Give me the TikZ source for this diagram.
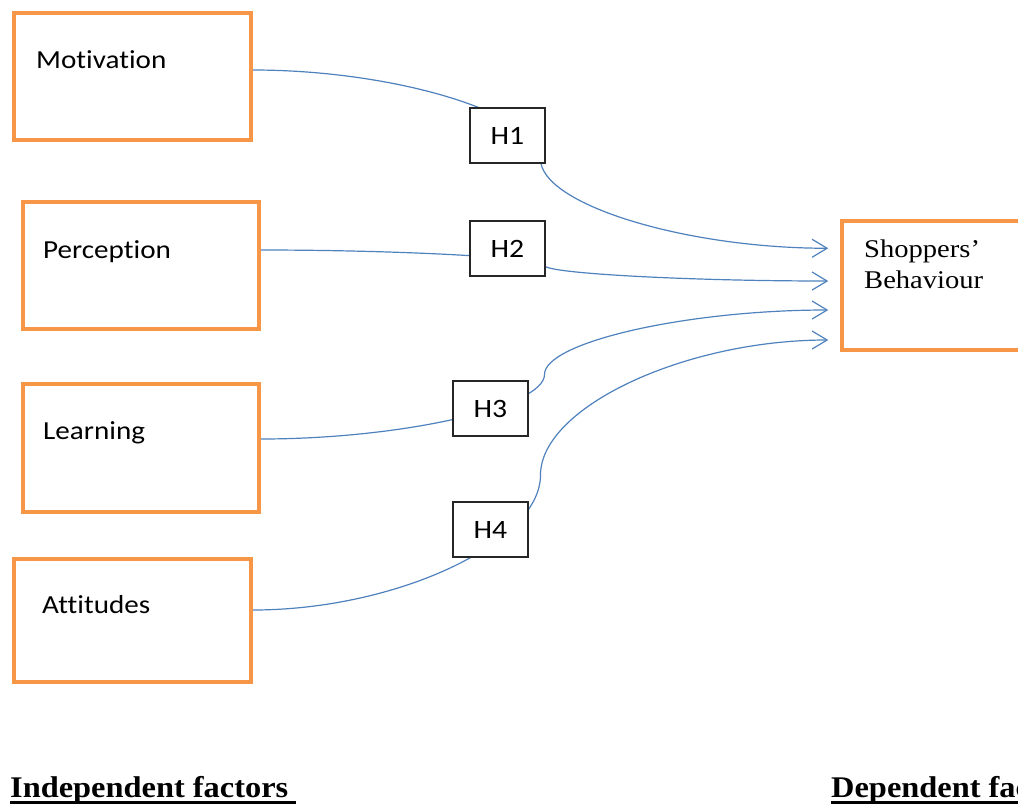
\documentclass[tikz,border=0pt]{standalone}
\usepackage{fontspec}
\setmainfont[FakeStretch=1.12]{Liberation Serif}
\newfontfamily\calibri[FakeStretch=1.12, Ligatures=NoCommon]{Carlito}
\newfontfamily\headfont[FakeStretch=1.08]{Liberation Serif}
\usetikzlibrary{arrows.meta,calc}
\definecolor{boxorange}{HTML}{F79646}
\definecolor{linkblue}{HTML}{4F81BD}
\newsavebox\ulbox
\newcommand{\thickul}[1]{\sbox\ulbox{#1}\usebox\ulbox\llap{\rule[-7pt]{\wd\ulbox}{3.5pt}}}
\tikzset{
	factor/.style={draw=boxorange, line width=3.5pt, minimum width=237pt, minimum height=127pt, inner sep=0pt},
	hypo/.style={draw=black!85, fill=white, line width=1.4pt, minimum width=75pt, minimum height=55pt, inner sep=0pt, font=\calibri\fontsize{26.5}{30}\selectfont},
	ftext/.style={anchor=base west, inner sep=0pt, font=\calibri\fontsize{26}{30}\selectfont},
	link/.style={draw=linkblue, line width=1.2pt, -{Straight Barb[length=15pt,width=18pt,line width=1.2pt]}},
	heading/.style={anchor=base west, inner sep=0pt, font=\headfont\bfseries\fontsize{30}{34}\selectfont}
}
\begin{document}
\begin{tikzpicture}[x=1pt,y=-1pt]
		\useasboundingbox (0,0) rectangle (1018,804);
		\clip (0,0) rectangle (1018,804);

		\node [factor] (motiv) at (132.5,76.5) {};
		\node [factor, minimum width=236pt] (percep) at (141,265.5) {};
		\node [factor, minimum width=236pt, minimum height=128pt] (learn) at (141,448) {};
		\node [factor, minimum height=123pt] (attit) at (132.5,620.5) {};
		\node [factor, minimum width=240pt, minimum height=129pt] (shop) at (962,285.5) {};

		\node [ftext] at ([shift={(23.75,-8.2)}]motiv.west) {Motivation};
		\node [ftext] at ([shift={(21.75,-7.2)}]percep.west) {Perception};
		\node [ftext] at ([shift={(21.75,-8.7)}]learn.west) {Learning};
		\node [ftext] at ([shift={(29.75,-7.2)}]attit.west) {Attitudes};
		\node [anchor=north west, align=left, inner sep=0pt, font=\fontsize{25.5}{31.6}\selectfont]
			at ([shift={(23.75,20)}]shop.north west) {Shoppers’\\Behaviour};

		\coordinate (s1) at ([shift={(0,-6.5)}]motiv.east);
		\coordinate (s2) at ([shift={(0,-15.5)}]percep.east);
		\coordinate (s3) at ([shift={(0,-9)}]learn.east);
		\coordinate (s4) at ([shift={(0,-10.5)}]attit.east);
		\coordinate (t1) at ([shift={(-12,29)}]shop.north west);
		\coordinate (t2) at ([shift={(-12,-4.5)}]shop.west);
		\coordinate (t3) at ([shift={(-12,24.5)}]shop.west);
		\coordinate (t4) at ([shift={(-12,54.5)}]shop.west);

		\draw [link] (s1) .. controls +(143.75,0) and +(0,-45) .. ($(s1)!.5!(t1)$)
			.. controls +(0,45) and +(-143.75,0) .. (t1);
		\draw [link] (s2) .. controls +(141.75,0) and +(0,-7.75) .. ($(s2)!.5!(t2)$)
			.. controls +(0,7.75) and +(-141.75,0) .. (t2);
		\draw [link] (s3) .. controls +(141.75,0) and +(0,32.25) .. ($(s3)!.5!(t3)$)
			.. controls +(0,-32.25) and +(-141.75,0) .. (t3);
		\draw [link] (s4) .. controls +(143.75,0) and +(0,67.5) .. ($(s4)!.5!(t4)$)
			.. controls +(0,-67.5) and +(-143.75,0) .. (t4);

		\node [hypo] (h1) at (507.5,135.5) {H1};
		\node [hypo] (h2) at (507.5,248.5) {H2};
		\node [hypo] (h3) at (490.5,408.5) {H3};
		\node [hypo] (h4) at (490.5,529.5) {H4};

		\node [heading] (indep) at (10,797) {\thickul{Independent factors\ }};
		\node [heading] (dep) at (831,797) {\thickul{Dependent factors}};
	\end{tikzpicture}
\end{document}
